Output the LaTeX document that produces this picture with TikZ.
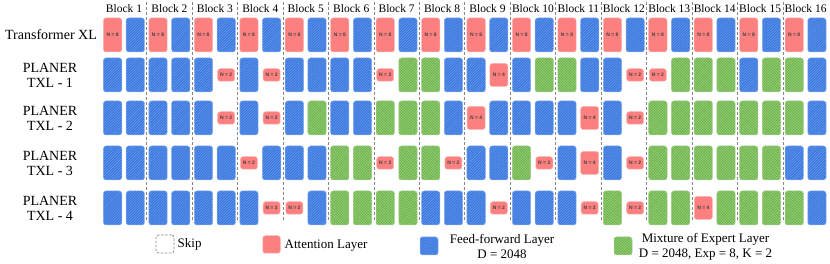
\documentclass[tikz,border=0pt]{standalone}
\usepackage{fontspec}
\setmainfont{Liberation Serif}
\newfontfamily\nsans{Liberation Sans}
\usetikzlibrary{patterns.meta}
\definecolor{ffblue}{RGB}{58,120,222}
\definecolor{ffstripe}{RGB}{105,155,238}
\definecolor{moegreen}{RGB}{104,176,72}
\definecolor{moecheck}{RGB}{150,205,118}
\definecolor{attred}{RGB}{252,128,128}
\definecolor{sepgray}{RGB}{135,135,135}
\def\txtb{}
\def\txtg{}
\def\txta{N = 2}
\def\txtc{N = 4}
\def\txtr{N = 8}
\begin{document}
\begin{tikzpicture}[x=1pt,y=-1pt,
  lay/.style={rounded corners=2.5pt, inner sep=0pt, outer sep=0pt,
    minimum width=18.3pt, minimum height=34pt, line width=0.5pt},
  Lb/.style={lay, fill=ffblue, draw=ffblue!55!white,
    postaction={pattern={Lines[angle=45,distance=1.9pt,line width=0.55pt]}, pattern color=ffstripe}},
  Lg/.style={lay, fill=moegreen, draw=moegreen!55!white,
    postaction={pattern={Hatch[angle=45,distance=1.9pt,line width=0.45pt]}, pattern color=moecheck}},
  att/.style={lay, fill=attred, draw=attred!60!white,
    font=\nsans\bfseries\fontsize{5}{5.5}\selectfont, text=black!75},
  Lr/.style={att},
  La/.style={att, minimum width=17pt, minimum height=12.5pt},
  Lc/.style={att, minimum width=18pt, minimum height=23pt},
  sepline/.style={draw=sepgray, line width=0.6pt, dash pattern=on 3pt off 2pt},
  rowlab/.style={font=\fontsize{14}{15}\selectfont, align=center},
  blklab/.style={font=\fontsize{11.5}{13}\selectfont, inner sep=0pt},
  legtxt/.style={font=\fontsize{13}{15}\selectfont, inner sep=0pt, align=center},
  skipbox/.style={draw=sepgray, line width=0.7pt, dash pattern=on 2.5pt off 1.5pt,
    rounded corners=2.5pt, minimum width=18pt, minimum height=18pt, inner sep=0pt}
]
\useasboundingbox (0,0) rectangle (830,264);

% block separators
\foreach \k in {1,...,15} {
  \draw[sepline] ({146.7+45.44*(\k-1)},2) -- ({146.7+45.44*(\k-1)},222);
}
% block labels
\foreach \k in {1,...,16} {
  \node[blklab] (blk\k) at ({124.0+45.44*(\k-1)},8.5) {Block \k};
}

% row labels
\node[rowlab] (lab0) at (51,35) {Transformer XL};
\node[rowlab] (lab1) at (50,75) {PLANER\\TXL - 1};
\node[rowlab] (lab2) at (50,118) {PLANER\\TXL - 2};
\node[rowlab] (lab3) at (50,163) {PLANER\\TXL - 3};
\node[rowlab] (lab4) at (50,208) {PLANER\\TXL - 4};

% Transformer XL
\foreach [count=\s from 0] \c in {r,b,r,b,r,b,r,b,r,b,r,b,r,b,r,b,r,b,r,b,r,b,r,b,r,b,r,b,r,b,r,b} {
  \node[L\c] (r0s\s) at ({112.6+22.72*\s},35) {\csname txt\c\endcsname};
}
% PLANER TXL - 1
\foreach [count=\s from 0] \c in {b,b, b,b, b,a, b,a, b,b, b,b, a,g, g,b, b,c, b,g, g,b, b,a, a,g, g,g, b,g, g,b} {
  \node[L\c] (r1s\s) at ({112.6+22.72*\s},75) {\csname txt\c\endcsname};
}
% PLANER TXL - 2
\foreach [count=\s from 0] \c in {b,b, b,b, b,a, b,a, b,g, b,b, g,g, g,b, c,b, b,b, b,c, b,a, g,g, g,g, g,g, g,b} {
  \node[L\c] (r2s\s) at ({112.6+22.72*\s},118) {\csname txt\c\endcsname};
}
% PLANER TXL - 3
\foreach [count=\s from 0] \c in {b,b, b,b, b,b, a,b, b,b, g,g, a,g, g,a, b,b, g,a, b,c, b,a, g,g, g,g, g,g, b,b} {
  \node[L\c] (r3s\s) at ({112.6+22.72*\s},163) {\csname txt\c\endcsname};
}
% PLANER TXL - 4
\foreach [count=\s from 0] \c in {b,b, b,b, b,b, b,a, a,b, g,g, g,g, b,b, b,a, b,b, b,a, g,a, g,g, c,g, g,g, g,b} {
  \node[L\c] (r4s\s) at ({112.6+22.72*\s},208) {\csname txt\c\endcsname};
}

% legend
\node[skipbox] (lgskip) at (165,244) {};
\node[legtxt, anchor=west] (lgskipt) at (177.5,244.5) {Skip};
\node[att, minimum width=17.5pt, minimum height=17.5pt] (lgatt) at (271.5,244.5) {};
\node[legtxt, anchor=west] (lgattt) at (284.5,245.5) {Attention Layer};
\node[Lb, minimum width=18pt, minimum height=18pt] (lgff) at (429,246) {};
\node[legtxt] (lgfft) at (502,246.5) {Feed-forward Layer\\D = 2048};
\node[Lg, minimum width=18pt, minimum height=18pt] (lgmoe) at (623,246) {};
\node[legtxt] (lgmoet) at (705.5,246.5) {Mixture of Expert Layer\\D = 2048, Exp = 8, K = 2};
\end{tikzpicture}
\end{document}
